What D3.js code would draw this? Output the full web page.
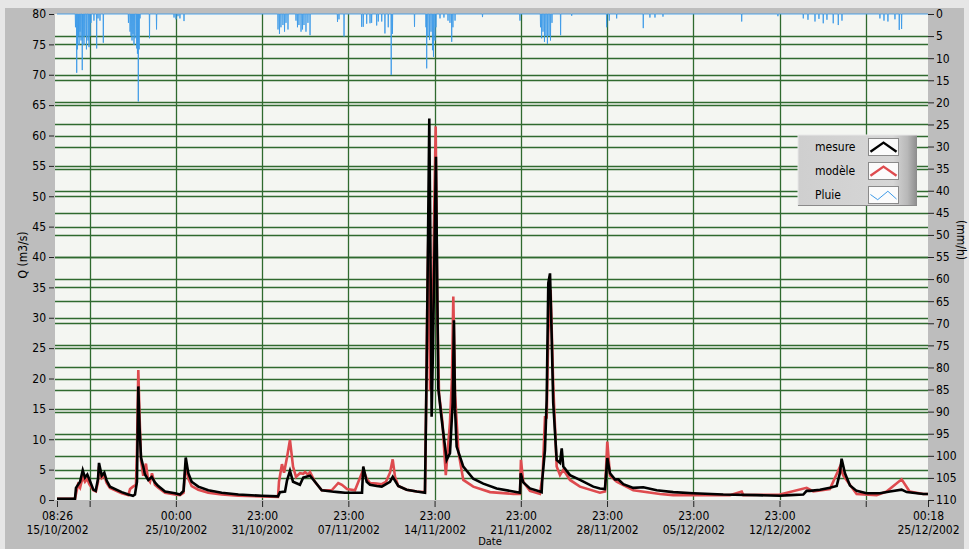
<!DOCTYPE html>
<html><head><meta charset="utf-8">
<script src="https://cdn.jsdelivr.net/npm/d3@7"></script>
<style>
html,body{margin:0;padding:0;background:#e6e6e6;}
svg{display:block;font-family:"DejaVu Sans Condensed","DejaVu Sans",sans-serif;}
</style></head>
<body><svg id="c" width="969" height="549"></svg>
<script>
// ---- data (time in days since 15/10/2002 08:26) ----
const debut = Date.UTC(2002, 9, 15, 6, 26);
const fin = Date.UTC(2002, 11, 24, 23, 18);

const mesureJour = [0,1.46,1.54,1.87,2.09,2.27,2.46,2.62,2.95,3.14,3.33,3.41,3.63,3.84,4.03,4.30,5.25,5.79,6.17,6.33,6.49,6.60,6.70,6.82,7.00,7.14,7.41,7.69,7.95,8.22,8.77,9.58,9.98,10.27,10.45,10.66,10.93,11.47,12.28,13.37,14.72,16.62,17.94,18.10,18.51,18.67,18.91,19.16,19.72,19.99,20.54,20.94,21.49,22.30,22.83,23.38,24.19,24.76,24.86,25.14,25.41,25.95,26.36,27.03,27.25,27.70,28.38,29.20,29.87,30.01,30.22,30.32,30.41,30.52,30.76,30.95,31.23,31.63,31.90,32.12,32.22,32.31,32.44,32.98,33.79,34.60,35.69,37.04,37.58,37.64,37.85,38.39,39.20,39.34,39.39,39.61,39.75,39.88,40.02,40.15,40.28,40.56,40.83,40.97,41.10,41.64,42.45,43.53,44.07,44.48,44.67,44.89,45.29,45.56,45.97,46.78,47.59,48.68,50.02,51.65,54.08,56.79,58.68,59.50,60.58,60.85,61.12,61.93,62.74,63.29,63.56,63.69,63.96,64.37,64.91,65.72,66.80,67.61,68.56,68.97,70.32,70.70];
const mesureQ = [0.2,0.2,2.0,3.0,4.9,3.7,4.2,3.4,1.7,1.5,3.5,6.1,4.0,4.5,3.2,2.2,1.3,0.9,0.7,0.9,3.0,18.7,12.0,7.0,5.5,4.2,3.3,3.8,2.9,2.3,1.4,1.1,0.9,1.5,7.0,4.4,3.0,2.2,1.6,1.2,0.9,0.7,0.6,1.3,1.4,3.2,4.8,3.0,2.5,3.7,4.0,3.0,1.6,1.4,1.3,1.2,1.2,1.2,5.5,3.0,2.5,2.3,2.2,3.0,3.8,2.3,1.7,1.4,1.2,22.5,62.8,40.0,13.7,25.0,56.5,18.4,13.2,6.6,7.7,16.0,29.6,15.0,8.8,5.5,3.5,2.7,1.9,1.4,1.2,4.4,2.9,1.9,1.4,1.3,3.3,8.2,16.5,35.7,37.3,27.4,16.0,6.6,6.1,8.5,5.5,4.1,3.3,2.2,1.9,1.8,6.9,4.4,3.4,3.4,2.6,2.0,2.1,1.6,1.3,1.1,0.9,0.8,0.7,0.8,0.9,1.5,1.5,1.7,2.0,2.3,4.5,6.8,4.4,2.4,1.5,1.1,1.1,1.4,1.7,1.3,1.0,1.0];

const modeleJour = [0,1.46,1.54,1.70,1.87,2.09,2.27,2.46,2.62,2.95,3.16,3.33,3.41,3.63,3.84,4.03,4.30,5.25,5.79,5.93,6.17,6.41,6.49,6.60,6.70,6.82,7.00,7.22,7.38,7.55,7.71,7.95,8.22,8.77,9.58,9.98,10.27,10.45,10.66,10.93,11.47,12.28,13.37,14.72,16.62,17.94,18.02,18.26,18.43,18.67,18.91,19.16,19.40,19.72,19.99,20.13,20.37,20.54,20.94,21.49,22.30,22.83,23.13,23.54,24.19,24.86,25.14,25.41,25.95,26.36,26.70,27.03,27.25,27.44,27.70,28.38,29.20,29.87,29.95,30.06,30.14,30.28,30.47,30.60,30.74,30.87,31.01,31.29,31.56,31.90,32.06,32.17,32.31,32.58,32.98,33.79,35.15,37.04,37.58,37.66,37.85,38.39,39.20,39.42,39.61,39.75,39.88,40.07,40.28,40.56,40.83,41.10,41.64,42.45,44.07,44.48,44.67,44.89,45.43,46.78,48.95,50.02,54.62,55.58,55.71,58.68,60.85,61.39,62.74,63.56,63.83,64.91,66.53,67.34,68.56,69.21,70.32,70.70];
const modeleQ = [0.2,0.2,1.0,2.5,2.0,3.8,3.0,3.5,2.6,1.6,1.4,3.0,5.5,3.6,4.0,2.8,2.0,1.1,0.8,1.8,2.2,2.5,8.0,21.4,14.0,6.5,4.0,6.0,3.5,3.0,4.4,2.5,2.0,1.2,0.9,0.8,1.2,6.0,3.5,2.3,1.7,1.2,0.9,0.7,0.6,0.5,3.0,5.9,4.5,7.0,9.9,5.5,3.8,4.4,4.3,4.6,4.2,4.6,3.0,1.6,1.6,2.8,2.5,1.8,1.6,5.0,3.5,2.8,2.7,2.6,3.0,4.5,6.7,3.8,2.3,1.7,1.4,1.3,13.0,33.0,42.8,18.0,24.0,45.0,61.5,32.0,17.5,12.8,4.1,12.8,20.0,33.5,17.5,8.0,3.3,2.2,1.3,1.0,1.0,6.6,3.0,1.5,1.0,4.0,13.6,13.6,27.4,34.6,19.0,5.5,4.1,5.0,3.3,2.2,1.2,1.4,9.6,4.0,3.0,1.6,1.0,0.8,0.8,1.4,0.8,0.9,2.0,1.4,1.8,5.5,4.0,1.0,0.8,1.4,3.4,1.4,1.0,1.0];

const pluieJour = [1.50,1.60,1.66,1.75,1.79,1.87,1.95,2.05,2.11,2.19,2.27,2.39,2.52,2.60,2.68,2.76,3.00,3.22,3.33,3.49,3.76,5.80,5.93,6.01,6.09,6.17,6.25,6.33,6.47,6.53,6.60,6.67,6.74,7.51,8.08,9.50,9.66,9.82,9.98,10.31,17.94,18.06,18.18,18.34,18.47,18.59,18.75,19.40,19.52,19.64,19.81,19.93,20.05,20.21,20.37,20.54,22.77,22.89,23.30,24.73,24.86,25.14,25.41,25.54,25.95,26.08,26.36,26.62,26.89,27.13,27.23,29.02,29.95,30.01,30.11,30.24,30.36,30.48,30.56,30.68,30.76,31.09,31.41,31.74,31.90,32.04,32.14,32.31,34.54,37.58,39.25,39.34,39.45,39.57,39.69,39.81,39.94,40.06,40.18,40.88,41.78,44.62,44.83,45.43,47.59,48.13,48.54,49.19,55.58,58.52,60.58,60.96,61.53,61.85,62.20,62.50,63.01,63.42,63.72,66.80,67.13,67.45,68.02,68.37,68.56];
const pluieMm = [3,13.3,8,5,7,4,6,12.7,5,7,5,8,6,7.5,5,2,1.5,7.8,1,1.5,6.5,2,4,5,6,4.5,7,5.5,7.8,9,19.8,8,1,5.5,3.5,0.8,1.2,0.5,1.0,1.6,3.5,4.5,3,2.5,4,2,3.5,1.5,3,2.5,4,3.5,2.5,4,2,4.8,1.8,1.2,5.1,2.9,2.9,2.2,2.1,2.0,2.6,1.7,1.7,4.4,3.0,13.8,4.5,2.9,3,12.3,5,5.9,4,8.2,9.7,6,3,1,0.8,1.5,2,6.3,3,1.5,0.7,1.5,3,5.5,4,6.3,5,6.8,5,6,2,4.8,0.4,3.0,1.5,1.0,3.2,0.8,0.8,0.6,1.7,0.5,1.0,1.3,1.7,1.1,2.1,1.3,2.1,2.5,1.5,1.0,1.5,1.7,1.2,3.6,3.4];

const yGaucheTicks = [0,5,10,15,20,25,30,35,40,45,50,55,60,65,70,75,80];
const yDroiteTicks = [0,5,10,15,20,25,30,35,40,45,50,55,60,65,70,75,80,85,90,95,100,105,110];
const xTicks = ["2002-10-15T06:26Z","2002-10-17T22:00Z","2002-10-24T22:00Z","2002-10-31T22:00Z","2002-11-07T22:00Z","2002-11-14T22:00Z","2002-11-21T22:00Z","2002-11-28T22:00Z","2002-12-05T22:00Z","2002-12-12T22:00Z","2002-12-19T22:00Z","2002-12-24T23:18Z"];
const xHeures = ["08:26","","00:00","23:00","23:00","23:00","23:00","23:00","23:00","23:00","","00:18"];
const xDates = ["15/10/2002","","25/10/2002","31/10/2002","07/11/2002","14/11/2002","21/11/2002","28/11/2002","05/12/2002","12/12/2002","","25/12/2002"];
const legende = ["mesure","modèle","Pluie"];
const couleurs = ["#000000","#de4b4f","#3d9ae8"];

// ---- layout ----
const L = 55, R = 928, T = 14, B = 500;
const svg = d3.select("#c");
const jour = 864e5;
const toDate = d => new Date(debut + d * jour);

const x = d3.scaleUtc().domain([new Date(debut), new Date(fin)]).range([57, R]);
const yG = d3.scaleLinear().domain([0, 80]).range([B, T]);
const yD = d3.scaleLinear().domain([0, 110]).range([T, B]);

// panel
svg.append("rect").attr("x", 5).attr("y", 8).attr("width", 959).attr("height", 541).attr("fill", "#bdbdbd");
svg.append("rect").attr("x", L).attr("y", T).attr("width", R - L).attr("height", B - T).attr("fill", "#f4f6f2");

const grid = svg.append("g").attr("stroke", "#2f6a2f").attr("stroke-width", 1.3);
grid.selectAll(".hg").data(yGaucheTicks.filter(v => v > 0 && v < 80)).join("line")
  .attr("x1", L).attr("x2", R).attr("y1", d => Math.round(yG(d)) + 0.5).attr("y2", d => Math.round(yG(d)) + 0.5);
grid.selectAll(".hd").data(yDroiteTicks.filter(v => v > 0 && v < 110)).join("line")
  .attr("x1", L).attr("x2", R).attr("y1", d => Math.round(yD(d)) + 0.5).attr("y2", d => Math.round(yD(d)) + 0.5);
const xTickDates = xTicks.map(s => new Date(s));
grid.selectAll(".vg").data(xTickDates.slice(1, -1)).join("line")
  .attr("x1", d => Math.round(x(d)) + 0.5).attr("x2", d => Math.round(x(d)) + 0.5).attr("y1", T).attr("y2", B);

// series
svg.append("clipPath").attr("id", "clp").append("rect").attr("x", L).attr("y", T - 1).attr("width", R - L).attr("height", B - T + 1);
const plot = svg.append("g").attr("clip-path", "url(#clp)");

// rain: spikes from zero
const pluiePts = [[0, 0]];
pluieJour.forEach((d, i) => { pluiePts.push([d - 0.02, 0], [d, pluieMm[i]], [d + 0.02, 0]); });
pluiePts.push([(fin - debut) / jour, 0]);
plot.append("path").datum(pluiePts)
  .attr("fill", "none").attr("stroke", couleurs[2]).attr("stroke-width", 1).attr("stroke-opacity", 0.9)
  .attr("d", d3.line().x(p => x(toDate(p[0]))).y(p => yD(p[1])));

const lineQ = d3.line().x(p => x(toDate(p[0]))).y(p => yG(p[1]));
plot.append("path").datum(modeleJour.map((d, i) => [d, modeleQ[i]]))
  .attr("fill", "none").attr("stroke", couleurs[1]).attr("stroke-width", 2.6).attr("stroke-linejoin", "miter").attr("d", lineQ);
plot.append("path").datum(mesureJour.map((d, i) => [d, mesureQ[i]]))
  .attr("fill", "none").attr("stroke", couleurs[0]).attr("stroke-width", 2.6).attr("stroke-linejoin", "miter").attr("d", lineQ);

// axes
const fs = "12px";
const axG = svg.append("g").attr("transform", `translate(${L - 1},0)`)
  .call(d3.axisLeft(yG).tickValues(yGaucheTicks).tickSize(5).tickPadding(3));
axG.select(".domain").remove();
axG.selectAll("line").attr("stroke", "#222");
axG.selectAll("text").attr("font-size", fs).attr("fill", "#000").attr("font-family", "DejaVu Sans Condensed, DejaVu Sans");

const axD = svg.append("g").attr("transform", `translate(${R},0)`)
  .call(d3.axisRight(yD).tickValues(yDroiteTicks).tickSize(6).tickPadding(2));
axD.select(".domain").remove();
axD.selectAll("line").attr("stroke", "#222");
axD.selectAll("text").attr("font-size", fs).attr("fill", "#000").attr("font-family", "DejaVu Sans Condensed, DejaVu Sans");

const axX = svg.append("g").attr("transform", `translate(0,${B + 1})`)
  .call(d3.axisBottom(x).tickValues(xTickDates).tickSize(6).tickFormat(""));
axX.select(".domain").remove();
axX.selectAll("line").attr("stroke", "#222");
axX.selectAll(".tick").each(function (d, i) {
  const t = d3.select(this).append("text").attr("fill", "#000").attr("font-size", fs)
    .attr("text-anchor", "middle").attr("font-family", "DejaVu Sans Condensed, DejaVu Sans");
  t.append("tspan").attr("x", 0).attr("y", 19).text(xHeures[i]);
  t.append("tspan").attr("x", 0).attr("y", 33).text(xDates[i]);
});

// titles
svg.append("text").attr("x", 490).attr("y", 545).attr("text-anchor", "middle").attr("font-size", "11px").text("Date");
svg.append("text").attr("transform", "translate(27,255) rotate(-90)").attr("text-anchor", "middle").attr("font-size", fs).text("Q (m3/s)");
svg.append("text").attr("transform", "translate(957,240) rotate(90)").attr("text-anchor", "middle").attr("font-size", fs).text("(mm/h)");

// legend
const defs = svg.append("defs");
const gr = defs.append("linearGradient").attr("id", "lg").attr("x1", 0).attr("x2", 1).attr("y1", 0).attr("y2", 0);
gr.append("stop").attr("offset", "0%").attr("stop-color", "#cfcfcf");
gr.append("stop").attr("offset", "80%").attr("stop-color", "#d6d6d6");
gr.append("stop").attr("offset", "92%").attr("stop-color", "#b8b8b8");
gr.append("stop").attr("offset", "100%").attr("stop-color", "#8c8c8c");
const lg = svg.append("g").attr("transform", "translate(798,135)");
lg.append("rect").attr("width", 119).attr("height", 71).attr("fill", "url(#lg)");
lg.append("path").attr("d", "M0,71 L0,0 L119,0").attr("fill", "none").attr("stroke", "#e8e8e8");
lg.append("path").attr("d", "M0,70.5 L119,70.5").attr("fill", "none").attr("stroke", "#8a8a8a");
const sw = d3.scaleLinear().domain([0, 1]).range([0, 29]);
const swH = d3.scaleLinear().domain([0, 1]).range([15, 2]);
const formes = [[[0.05, 0.1], [0.5, 0.8], [0.95, 0.1]], [[0.05, 0.1], [0.5, 0.8], [0.95, 0.1]], [[0.05, 0.5], [0.3, 0.1], [0.65, 0.75], [0.95, 0.15]]];
legende.forEach((nom, i) => {
  const gy = 3 + i * 24;
  lg.append("text").attr("x", 17).attr("y", gy + 13).attr("font-size", fs).attr("fill", "#000").text(nom);
  const g = lg.append("g").attr("transform", `translate(70,${gy})`);
  g.append("rect").attr("x", 0.5).attr("y", 0.5).attr("width", 30).attr("height", 17).attr("fill", "#fbfbfb").attr("stroke", "#8a8a8a");
  g.append("path").datum(formes[i]).attr("fill", "none").attr("stroke", couleurs[i])
    .attr("stroke-width", i === 2 ? 1 : 2.4).attr("transform", "translate(1,0)")
    .attr("d", d3.line().x(p => sw(p[0])).y(p => swH(p[1])));
});
</script></body></html>
